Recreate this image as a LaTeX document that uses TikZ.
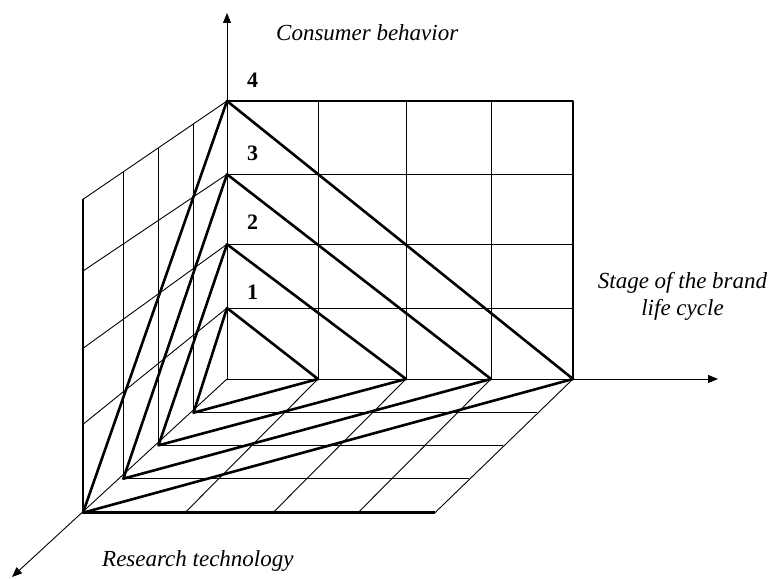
\documentclass[tikz,border=0pt]{standalone}
\usepackage{fontspec}
\setmainfont{Liberation Serif}
\usetikzlibrary{arrows.meta}
\begin{document}
\begin{tikzpicture}[x=1pt,y=-1pt,
  thinline/.style={line width=0.9pt},
  thickline/.style={line width=2.6pt, line join=round},
  axisarrow/.style={line width=0.9pt, -{Triangle[length=10pt,width=8pt]}},
  lbl/.style={font=\fontsize{23}{27}\selectfont\itshape, inner sep=0pt},
  num/.style={font=\fontsize{22}{26}\selectfont\bfseries, inner sep=0pt}]
\useasboundingbox (0,0) rectangle (770,578);
% origin and axis ends
\coordinate (O) at (227,379);
\coordinate (Ytip) at (227,13);
\coordinate (Xtip) at (718,379);
\coordinate (Ztip) at (12,577);
% apexes on vertical axis
\coordinate (A1) at (227,308);
\coordinate (A2) at (227,244.3);
\coordinate (A3) at (227,174.3);
\coordinate (A4) at (227,101);
% right vertices on horizontal axis
\coordinate (R1) at (318,379);
\coordinate (R2) at (406,379);
\coordinate (R3) at (491,379);
\coordinate (R4) at (573,379);
% front vertices on depth axis
\coordinate (F1) at (193.5,412.7);
\coordinate (F2) at (158.5,445.3);
\coordinate (F3) at (123.3,478.7);
\coordinate (F4) at (83,512.7);
% back wall top grid points
\coordinate (T1) at (318,101);
\coordinate (T2) at (406,101);
\coordinate (T3) at (491,101);
\coordinate (T4) at (573,101);
\coordinate (E1) at (573,308);
\coordinate (E2) at (573,244.3);
\coordinate (E3) at (573,174.3);
% left wall points
\coordinate (L1) at (83,424.3);
\coordinate (L2) at (83,348.3);
\coordinate (L3) at (83,271);
\coordinate (L4) at (83,199.3);
\coordinate (U1) at (193.5,124);
\coordinate (U2) at (158.5,147.8);
\coordinate (U3) at (123.3,172);
% floor points
\coordinate (B1) at (185,512.7);
\coordinate (B2) at (273,512.7);
\coordinate (B3) at (358,512.7);
\coordinate (B4) at (435,512.7);
\coordinate (G1) at (537,412.7);
\coordinate (G2) at (503,445.3);
\coordinate (G3) at (469,478.7);

% axes
\draw[axisarrow] (O) -- (Ytip);
\draw[axisarrow] (O) -- (Xtip);
\draw[axisarrow] (O) -- (Ztip);

% back wall grid
\draw[thinline] (A1) -- (E1) (A2) -- (E2) (A3) -- (E3);
\draw[thinline] (T1) -- (R1) (T2) -- (R2) (T3) -- (R3);
\draw[thickline] (A4) -- (T4) -- (R4);

% left wall grid
\draw[thinline] (A4) -- (L4) (A3) -- (L3) (A2) -- (L2) (A1) -- (L1);
\draw[thinline] (U1) -- (F1) (U2) -- (F2) (U3) -- (F3);
\draw[thickline] (L4) -- (F4);

% floor grid
\draw[thinline] (F1) -- (G1) (F2) -- (G2) (F3) -- (G3);
\draw[thinline] (R1) -- (B1) (R2) -- (B2) (R3) -- (B3) (R4) -- (B4);
\draw[thickline] (F4) -- (B4);

% nested triangles
\draw[thickline] (A1) -- (R1) -- (F1) -- cycle;
\draw[thickline] (A2) -- (R2) -- (F2) -- cycle;
\draw[thickline] (A3) -- (R3) -- (F3) -- cycle;
\draw[thickline] (A4) -- (R4) -- (F4) -- cycle;

% numbers
\node[num] (n1) at (252.5,292) {1};
\node[num] (n2) at (252.5,222.5) {2};
\node[num] (n3) at (252.5,153.5) {3};
\node[num] (n4) at (252.5,80) {4};

% axis labels
\node[lbl, anchor=base west] (cb) at (276,41) {Consumer behavior};
\node[lbl, anchor=base, align=center] (st) at (682.5,315) {Stage of the brand\\life cycle};
\node[lbl, anchor=base west] (rt) at (102,566) {Research technology};
\end{tikzpicture}
\end{document}
